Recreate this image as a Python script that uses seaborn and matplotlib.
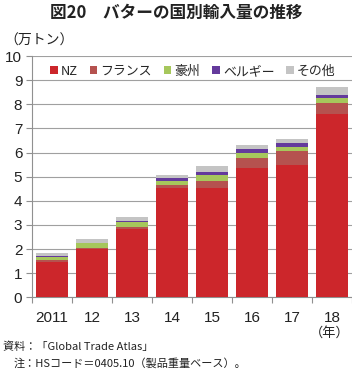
import numpy as np
import pandas as pd
import seaborn as sns
import matplotlib.pyplot as plt
from matplotlib.patches import Patch

sns.set_theme(style="white")
plt.rcParams['font.family'] = ['Noto Sans CJK JP', 'DejaVu Sans']

years = ["2011", "12", "13", "14", "15", "16", "17", "18"]
nz = [1.45, 1.99, 2.82, 4.52, 4.52, 5.36, 5.50, 7.58]
france = [0.08, 0.07, 0.11, 0.13, 0.30, 0.40, 0.56, 0.49]
australia = [0.15, 0.18, 0.18, 0.18, 0.26, 0.21, 0.18, 0.20]
belgium = [0.02, 0.02, 0.07, 0.10, 0.11, 0.16, 0.17, 0.11]
other = [0.12, 0.14, 0.13, 0.14, 0.25, 0.17, 0.16, 0.35]

names = ["NZ", "フランス", "豪州", "ベルギー", "その他"]
colors = ["#cc262b", "#b5524f", "#a6c75c", "#643a9c", "#c4c4c4"]

df = pd.DataFrame({"year": years, "NZ": nz, "フランス": france, "豪州": australia,
                   "ベルギー": belgium, "その他": other})
cum = df[names].cumsum(axis=1)

fig = plt.figure(figsize=(3.52, 3.72), dpi=100)
ax = fig.add_axes([32 / 352, 1 - 297.3 / 372, 320 / 352, (297.3 - 56) / 372])

# draw cumulative totals from the top layer down so lower layers cover them
for name, col in reversed(list(zip(names, colors))):
    sns.barplot(x=df["year"], y=cum[name], color=col, width=0.78,
                saturation=1, ax=ax, edgecolor="none", zorder=3)

ax.set_ylim(0, 10)
ax.set_yticks(range(0, 11))
ax.set_xlim(-0.5, 7.5)
ax.grid(axis="y", color="#a0a0a0", linewidth=0.8, zorder=0)
ax.set_axisbelow(True)
ax.set_xlabel("")
ax.set_ylabel("")
for s in ["top", "right"]:
    ax.spines[s].set_visible(False)
for s in ["left", "bottom"]:
    ax.spines[s].set_color("#909090")
    ax.spines[s].set_linewidth(0.8)

ax.tick_params(axis="y", which="both", left=True, length=4, width=0.8,
               color="#909090", labelsize=11, pad=3, labelcolor="#222222")
ax.set_xticks(np.arange(8))
ax.set_xticklabels(years)
ax.tick_params(axis="x", bottom=False, labelsize=11, pad=4, labelcolor="#222222")
ax.set_xticks(np.arange(-0.5, 8, 1), minor=True)
ax.tick_params(axis="x", which="minor", bottom=True, length=4, width=0.8, color="#909090")
for lab in ax.get_xticklabels() + ax.get_yticklabels():
    lab.set_family(["Liberation Sans", "DejaVu Sans"])

handles = [Patch(facecolor=c, edgecolor="none", label=n) for n, c in zip(names, colors)]
ax.legend(handles=handles, loc="upper left", bbox_to_anchor=(0.04, 0.985), ncol=5,
          frameon=False, fontsize=9.3, handlelength=0.6, handleheight=0.6,
          handletextpad=0.25, columnspacing=0.9, borderaxespad=0)

fig.text(0.5, 1 - 13 / 372, "図20　バターの国別輸入量の推移", ha="center", va="center",
         fontsize=12, fontweight="bold", color="#222222")
fig.text(4 / 352, 1 - 41 / 372, "（万トン）", ha="left", va="center", fontsize=10,
         color="#222222")
fig.text(350 / 352, 1 - 333 / 372, "（年）", ha="right", va="center", fontsize=9.5,
         color="#222222")
fig.text(3 / 352, 1 - 347 / 372, "資料：「Global Trade Atlas」", ha="left", va="center",
         fontsize=8, color="#222222")
fig.text(14 / 352, 1 - 363 / 372, "注：HSコード＝0405.10（製品重量ベース）。", ha="left",
         va="center", fontsize=8, color="#222222")

fig.savefig("out.png", dpi=100)
